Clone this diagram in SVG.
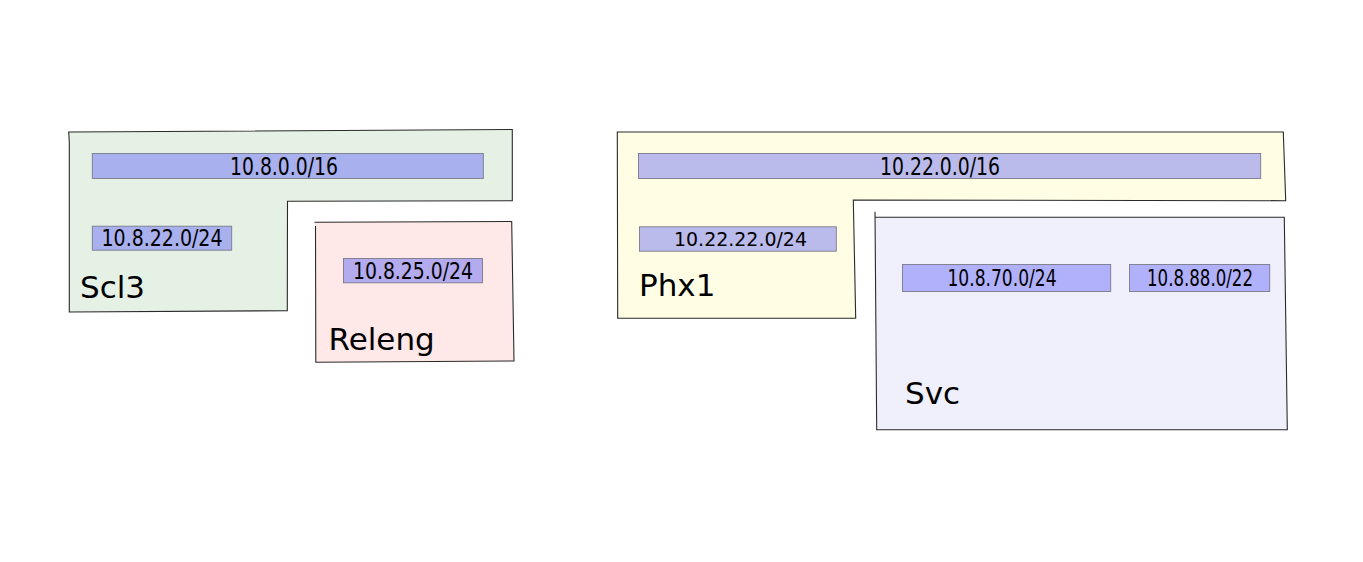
<svg xmlns="http://www.w3.org/2000/svg" width="1363" height="562" viewBox="0 0 1363 562">
<style>
.zone{stroke:#2a2a2a;stroke-width:1.1;stroke-linejoin:miter}
.net{stroke:#7a7a8a;stroke-width:0.9}
.nt{font-family:"DejaVu Sans Condensed","DejaVu Sans",sans-serif;fill:#000;text-anchor:middle}
.zt{font-family:"DejaVu Sans",sans-serif;font-size:31px;fill:#000}
</style>
<rect width="1363" height="562" fill="#fff"/>
<g id="scl3">
<path class="zone" fill="#e6f1e5" d="M68.7,132 L512.3,129.5 L512.3,200.7 L287.5,201.3 L287.3,310.7 L69.3,312 L69.3,142 Z"/>
<rect class="net" x="92.3" y="153.5" width="391" height="25" fill="#a8b0ee"/>
<text class="nt" x="284" y="174.5" font-size="24" textLength="108" lengthAdjust="spacingAndGlyphs">10.8.0.0/16</text>
<rect class="net" x="92.3" y="226.2" width="139.4" height="24" fill="#a8b0ee"/>
<text class="nt" x="162" y="246" font-size="23" textLength="121" lengthAdjust="spacingAndGlyphs">10.8.22.0/24</text>
<text class="zt" x="80" y="297.5">Scl3</text>
</g>
<g id="releng">
<path class="zone" fill="#fee8e8" d="M314.5,222.3 L511.7,221.5 L514,361 L315.8,362.3 L315.5,226"/>
<rect class="net" x="343.5" y="258.5" width="139" height="24.3" fill="#b4aaee"/>
<text class="nt" x="413" y="278.5" font-size="23" textLength="120" lengthAdjust="spacingAndGlyphs">10.8.25.0/24</text>
<text class="zt" x="328.5" y="350">Releng</text>
</g>
<g id="phx1">
<path class="zone" fill="#fffee4" d="M617.3,132 L1283.3,132 L1285.7,200.7 L853.3,200 L855.7,318.3 L617.7,318.3 Z"/>
<rect class="net" x="638.5" y="153.5" width="622.2" height="25" fill="#babbea"/>
<text class="nt" x="940" y="175" font-size="24" textLength="120" lengthAdjust="spacingAndGlyphs">10.22.0.0/16</text>
<rect class="net" x="639.5" y="226.8" width="196.8" height="24.4" fill="#babbea"/>
<text class="nt" x="740.5" y="246" font-size="20" textLength="133" lengthAdjust="spacingAndGlyphs">10.22.22.0/24</text>
<text class="zt" x="639" y="295.5">Phx1</text>
</g>
<g id="svc">
<path class="zone" fill="#f0f0fc" d="M875,217.3 L1284.3,217.3 L1287.3,429.7 L876.7,429.7 L875,211.7"/>
<rect class="net" x="902.5" y="264.5" width="208.2" height="27" fill="#b0b0fb"/>
<text class="nt" x="1002" y="286" font-size="23" textLength="109" lengthAdjust="spacingAndGlyphs">10.8.70.0/24</text>
<rect class="net" x="1129.5" y="264.5" width="140.2" height="27" fill="#b0b0fb"/>
<text class="nt" x="1200" y="286" font-size="23" textLength="106" lengthAdjust="spacingAndGlyphs">10.8.88.0/22</text>
<text class="zt" x="905" y="403.5">Svc</text>
</g>
<g id="connectors"/>
</svg>
